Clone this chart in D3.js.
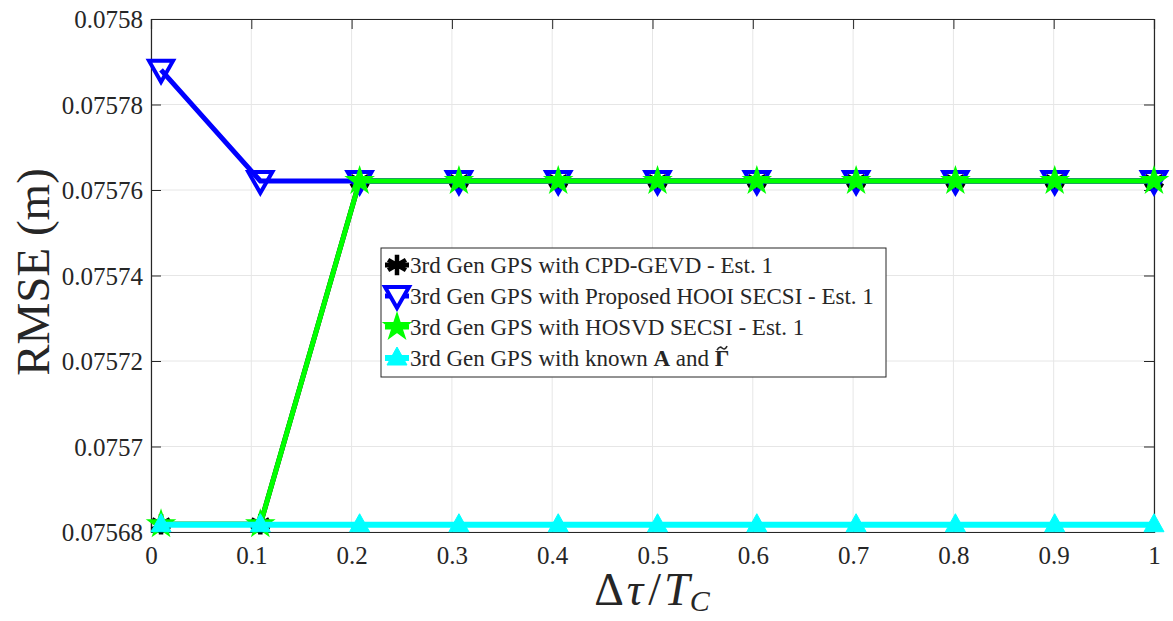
<!DOCTYPE html>
<html>
<head>
<meta charset="utf-8">
<script src="https://cdn.jsdelivr.net/npm/d3@7"></script>
<style>
  body { margin: 0; background: #fff; }
  svg text { font-family: "Liberation Serif", serif; fill: #262626; }
</style>
</head>
<body>
<div id="chart"></div>
<script>
// data
const xValues = [0.01, 0.109, 0.208, 0.307, 0.406, 0.505, 0.604, 0.703, 0.802, 0.901, 1.0];
const cpdGevd = [0.0756818, 0.0756818, 0.0757621, 0.0757621, 0.0757621, 0.0757621, 0.0757621, 0.0757621, 0.0757621, 0.0757621, 0.0757621];
const hooiSecsi = [0.0757881, 0.0757621, 0.0757621, 0.0757621, 0.0757621, 0.0757621, 0.0757621, 0.0757621, 0.0757621, 0.0757621, 0.0757621];
const hosvdSecsi = [0.0756818, 0.0756818, 0.0757621, 0.0757621, 0.0757621, 0.0757621, 0.0757621, 0.0757621, 0.0757621, 0.0757621, 0.0757621];
const knownAG = [0.0756817, 0.0756817, 0.0756817, 0.0756817, 0.0756817, 0.0756817, 0.0756817, 0.0756817, 0.0756817, 0.0756817, 0.0756817];

const xTicks = [0, 0.1, 0.2, 0.3, 0.4, 0.5, 0.6, 0.7, 0.8, 0.9, 1];
const yTicks = [0.07568, 0.0757, 0.07572, 0.07574, 0.07576, 0.07578, 0.0758];
const yTickLabels = ["0.07568", "0.0757", "0.07572", "0.07574", "0.07576", "0.07578", "0.0758"];

const W = 1173, H = 621;
const margin = {top: 19, right: 19, bottom: 89, left: 151};
const width = W - margin.left - margin.right;
const height = H - margin.top - margin.bottom;

const svg = d3.select("#chart").append("svg")
    .attr("width", W)
    .attr("height", H);

const g = svg.append("g")
    .attr("transform", "translate(" + margin.left + "," + margin.top + ")");

const x = d3.scaleLinear().domain([0, 1]).range([0, width]);
const y = d3.scaleLinear().domain([0.07568, 0.0758]).range([height, 0]);

// grid
g.append("g").selectAll("line").data(xTicks).enter().append("line")
    .attr("x1", d => x(d)).attr("x2", d => x(d))
    .attr("y1", 0).attr("y2", height)
    .attr("stroke", "#e6e6e6").attr("stroke-width", 1);
g.append("g").selectAll("line").data(yTicks).enter().append("line")
    .attr("y1", d => y(d)).attr("y2", d => y(d))
    .attr("x1", 0).attr("x2", width)
    .attr("stroke", "#e6e6e6").attr("stroke-width", 1);

// axes, ticks pointing inwards like matlab
const tickLen = 10;
const xAxis = g.append("g")
    .attr("transform", "translate(0," + height + ")")
    .call(d3.axisBottom(x).tickValues(xTicks).tickSize(-tickLen).tickPadding(14)
        .tickFormat(d => d3.format("")(d)));
const xAxisTop = g.append("g")
    .call(d3.axisTop(x).tickValues(xTicks).tickSize(-tickLen).tickFormat(""));
const yAxis = g.append("g")
    .call(d3.axisLeft(y).tickValues(yTicks).tickSize(-tickLen).tickPadding(8)
        .tickFormat((d, i) => yTickLabels[i]));
const yAxisRight = g.append("g")
    .attr("transform", "translate(" + width + ",0)")
    .call(d3.axisRight(y).tickValues(yTicks).tickSize(-tickLen).tickFormat(""));

[xAxis, xAxisTop, yAxis, yAxisRight].forEach(a => {
    a.attr("font-family", null);
    a.select(".domain").attr("stroke", "#262626").attr("stroke-width", 1.2);
    a.selectAll(".tick line").attr("stroke", "#262626").attr("stroke-width", 1);
    a.selectAll("text").style("font-size", "25px").attr("fill", "#262626");
});
xAxis.selectAll("text").attr("dy", "0.71em");
yAxis.selectAll("text").attr("dy", "0.34em");

// marker shapes
const triDown = "M-12,-9L12,-9L0,12Z";
const triUp = "M0,-11L10,7L-10,7Z";
const star = d3.symbol().type(d3.symbolStar).size(210)();
const aster = d3.symbol().type(d3.symbolAsterisk).size(300)();

const series = [
    {name: "cpd", values: cpdGevd, color: "#000000", lw: 5, marker: aster, mfill: "none", mstroke: "#000", msw: 4.5},
    {name: "hooi", values: hooiSecsi, color: "#0000ff", lw: 5, marker: triDown, mfill: "none", mstroke: "#0000ff", msw: 4},
    {name: "hosvd", values: hosvdSecsi, color: "#00ff00", lw: 5, marker: star, mfill: "#00ff00", mstroke: "#00ff00", msw: 1.5},
    {name: "known", values: knownAG, color: "#00ffff", lw: 6, marker: triUp, mfill: "#00ffff", mstroke: "#00ffff", msw: 1}
];

const line = d3.line()
    .x((d, i) => x(xValues[i]))
    .y(d => y(d));

series.forEach(s => {
    g.append("path")
        .datum(s.values)
        .attr("d", line)
        .attr("fill", "none")
        .attr("stroke", s.color)
        .attr("stroke-width", s.lw)
        .attr("stroke-linejoin", "miter");
    g.append("g").selectAll("path").data(s.values).enter().append("path")
        .attr("d", s.marker)
        .attr("transform", (d, i) => "translate(" + x(xValues[i]) + "," + y(d) + ")")
        .attr("fill", s.mfill)
        .attr("stroke", s.mstroke)
        .attr("stroke-width", s.msw)
        .attr("stroke-linejoin", "miter");
});

// axis labels
svg.append("text")
    .attr("transform", "translate(49,272) rotate(-90)")
    .attr("text-anchor", "middle")
    .style("font-size", "47px")
    .text("RMSE (m)");

const xl = svg.append("text")
    .attr("x", 652).attr("y", 605)
    .attr("text-anchor", "middle")
    .style("font-size", "46px");
xl.append("tspan").text("Δ");
xl.append("tspan").attr("dx", 3).style("font-style", "italic").text("τ");
xl.append("tspan").attr("dx", 5).text("/");
xl.append("tspan").attr("dx", 3).style("font-style", "italic").text("T");
xl.append("tspan").style("font-style", "italic").style("font-size", "30px").attr("dy", 6).text("C");

// legend
const legendLabels = [
    ["3rd Gen GPS with CPD-GEVD - Est. 1"],
    ["3rd Gen GPS with Proposed HOOI SECSI - Est. 1"],
    ["3rd Gen GPS with HOSVD SECSI - Est. 1"],
    ["3rd Gen GPS with known ", "A", " and ", "Γ"]
];
const leg = svg.append("g").attr("transform", "translate(381,248)");
leg.append("rect")
    .attr("width", 505).attr("height", 129)
    .attr("fill", "#fff")
    .attr("stroke", "#262626").attr("stroke-width", 1);

series.forEach((s, i) => {
    const cy = 17 + i * 31;
    leg.append("line")
        .attr("x1", 4).attr("x2", 28).attr("y1", cy).attr("y2", cy)
        .attr("stroke", s.color).attr("stroke-width", s.lw);
    leg.append("path")
        .attr("d", s.marker)
        .attr("transform", "translate(16," + cy + ")")
        .attr("fill", s.mfill === "none" ? "#fff" : s.mfill)
        .attr("stroke", s.mstroke)
        .attr("stroke-width", s.msw);
    const t = leg.append("text")
        .attr("x", 29).attr("y", cy).attr("dy", "0.35em")
        .style("font-size", "23px");
    const parts = legendLabels[i];
    parts.forEach((part, j) => {
        t.append("tspan")
            .style("font-weight", (j === 1 || j === 3) ? "bold" : "normal")
            .text(part);
    });
    if (parts.length > 3) {
        // tilde accent over the Gamma, drawn as a small curve
        const n = parts.join("").length - 1;
        const ext = t.node().getExtentOfChar(n);
        const cx = ext.x + ext.width / 2;
        const ty = ext.y + 2;
        const p = d3.path();
        p.moveTo(cx - 5, ty + 2);
        p.bezierCurveTo(cx - 3, ty - 2, cx - 1, ty - 1, cx, ty);
        p.bezierCurveTo(cx + 1, ty + 1, cx + 3, ty + 2, cx + 5, ty - 2);
        leg.append("path")
            .attr("d", p.toString())
            .attr("fill", "none")
            .attr("stroke", "#262626")
            .attr("stroke-width", 1.6);
    }
});
</script>
</body>
</html>
